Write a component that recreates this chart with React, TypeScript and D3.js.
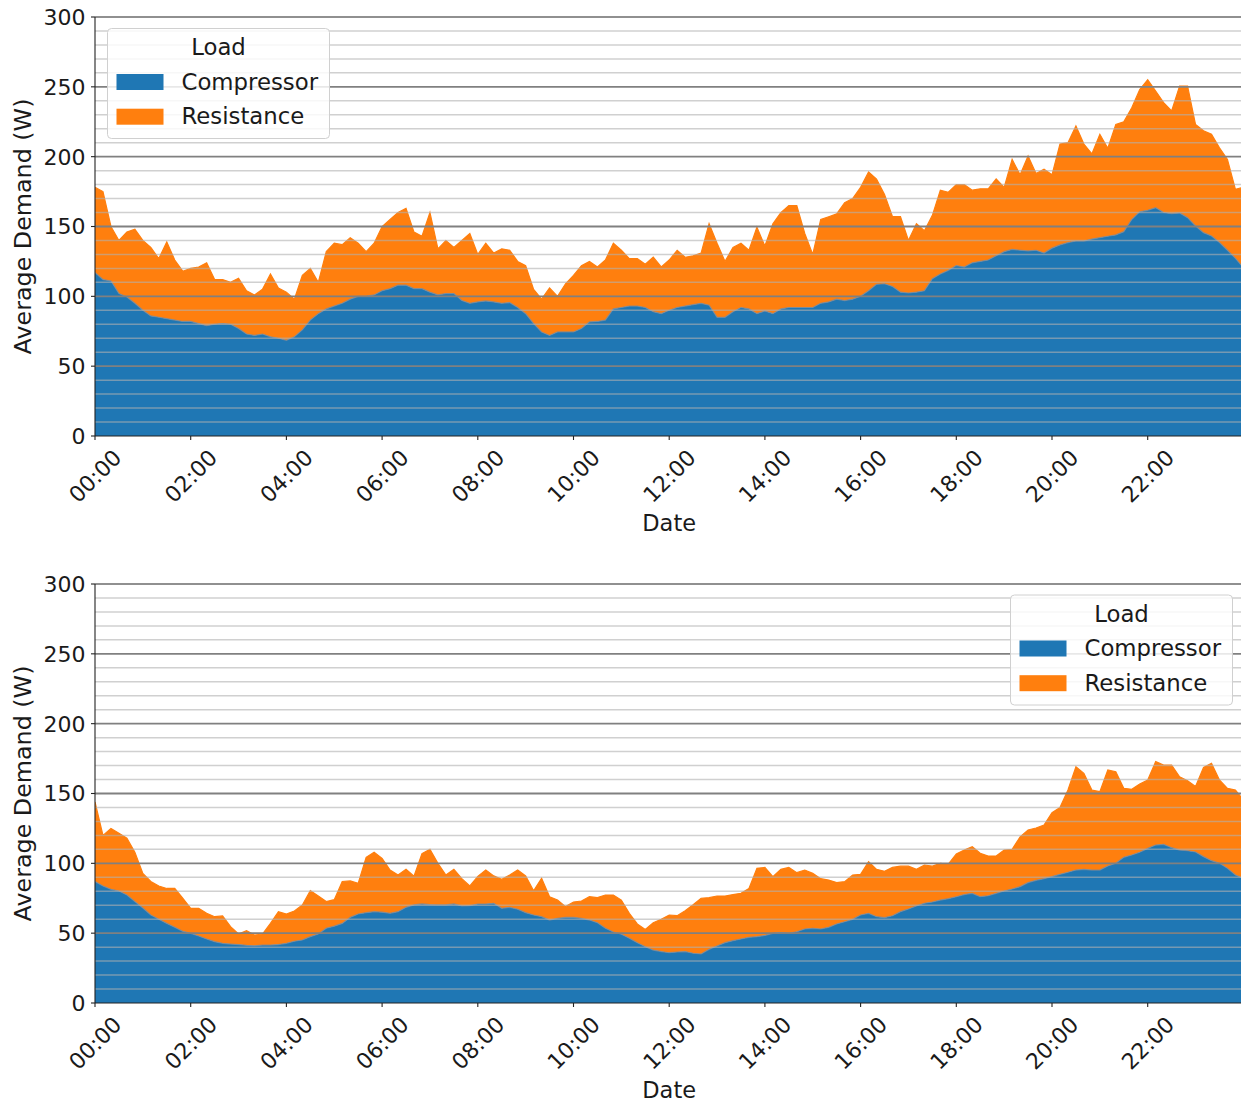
import React from "react";
import * as d3 from "d3";

// sample times (minutes after midnight), 10-minute grid
const TIME_MIN: number[] = d3.range(0, 1441, 10);
const TICK_LABELS = ["00:00","02:00","04:00","06:00","08:00","10:00","12:00","14:00","16:00","18:00","20:00","22:00"];
const TICK_MIN = [0,120,240,360,480,600,720,840,960,1080,1200,1320];
const Y_TICKS = [0,50,100,150,200,250,300];
const SERIES = ["Compressor","Resistance"];

// Panel 1: compressor demand (W)
const compressorTop = [
117,112,111,102,99.5,95,90,86,85,84,83,82,82,80.5,79,80,80.5,80,77,73,72,73,71,70,68.5,71,76,83,87.6,91,93,95,98,100,100,101,104,105.5,108,108,105.5,105.5,103,101,102,102,97,95,96,96.7,96,95,95.5,92,87.6,80.5,74.5,72,74.5,74.5,74.5,
77,81.7,82,83,91,92,93,93,92,89,87.6,90,92,93,94,95,93.6,85,85,89,92,91,87.6,89.5,87.6,91,92,92,92,92,95,96,98,97,98,100,104,108.6,109,107,103,102.4,103,104,112.6,116,118.6,122,121,124,125,126,129,
132,133.6,133,132.5,133,131,134.5,136.8,138.5,139.6,139.6,141,142,143,144,146.3,155,160.6,161.6,163.5,160,159.2,159.7,156.3,150.4,145.6,143.2,138.5,133,127.2,120.5];
// Panel 1: upper edge of the stack (Compressor + Resistance), W
const stackTopPanel1 = [
178,175,150,140,146,148,140,135,127,139,126,118,120,121,124,112,112,110,113,104,101,105,116,106,103,98,115,120,110,132,138,137,142,138,132,138,150,155,160,163,146,143,160,134,140,135,140,145,130,138,131,134,133,125,122,105,98,106,100,109,115,
122,125,121,126,138,133,127,127,123,128,121,126,133,128,129,131,152,138,125,135,138,133,149.5,136,152,160,165,165,145,130,155,157,159,167,170,178,189,184,173,157,157,140,152,147,158,176,174.5,180,180,176,177,177,184,
178,198,187,200.5,188,191,187,209,210,222,209,202,216,206,223,225,235,248,255,247,238.7,232.7,250.6,250.6,223,218.6,216,206.4,198,176.6,178];

// Panel 2: compressor demand (W)
const compressorBottom = [
87,83.8,81.4,80.2,77.3,72.6,68,63,60,57,54.2,51.3,49.9,48,45.8,43.9,42.7,42.2,41.8,41.3,41,41.5,41.5,41.8,42.7,44.2,45.1,47.5,49.4,53.5,55,57,61.3,63.7,64.7,65.4,65,64.2,65.4,68.5,70.2,70.9,70.4,70.2,70.2,70.9,69.5,69.7,70.9,
70.9,71.4,67.8,68.5,67.1,64.7,63,61.8,59.4,60.6,61.3,61.3,60.6,59.4,57.5,53.5,50.8,49.2,46.3,43.2,40.3,37.9,36.8,36,36.5,36.8,35.6,35.1,38.4,40.8,43.2,44.6,45.8,47,47.5,48.4,49.9,50.4,49.9,51,53,53.5,53,54.2,56.6,58.2,59.9,63,
64.2,61.8,61.1,62.5,65.4,67.3,69.5,71.4,72.3,73.7,74.7,76.1,77.6,78.5,76.1,76.8,78.5,80.2,81.6,83.3,86.2,87.8,89,90.5,92.1,93.6,95.2,95.7,95.2,95.2,98.1,100,104.3,106,107.9,110.7,113.1,113.6,111.2,109.5,109,108.1,104.8,101.9,100,96.4,91.6,89.3];
// Panel 2: upper edge of the stack (Compressor + Resistance), W
const stackTopPanel2 = [
144,120,125,121.5,118,108,92.8,87,83.8,82,82,75,67.8,67.8,64.2,61.8,62.3,54.7,49.4,51.8,48.7,49.4,57,65.4,63.7,65.9,70.2,80.4,76.6,72.6,74,87,87.4,85.7,104.3,108,103.6,95.2,91.6,95.7,90.7,107,110,100,91.6,95.7,89,83.8,90.7,
95.2,91,88.5,91.6,95.2,91,80.4,89.3,76.1,73.7,69,72.3,73,76.1,75.5,77.3,77.3,73.7,64.2,56.6,52.7,57.5,60,63,62.5,66.1,70.4,75,75.4,76.6,76.6,77.6,78.5,82,96.4,97.1,90.5,95.7,97.1,93.3,95.2,92.8,89,88,86.2,86.9,91.6,92.1,
101.2,95.7,94.3,97.1,98,98,95.7,98.8,98,100,99.5,106.7,109.5,111.9,107.2,105.2,105.2,109.5,110,119,123.9,125.3,127.4,136.3,140,152.5,169.2,164.4,152.5,151.3,166.8,165.6,153.7,153,156.8,159.7,172.8,170.4,170.4,162,159.2,155,168.7,171.6,159.7,153.7,152.5,145.3];

const W = 1241, H = 1101;
const X0 = 95, X1 = 95 + 24 * 47.85;
const BLUE = "#1f77b4", ORANGE = "#ff7f0e";
const FONT = "DejaVu Sans, Verdana, sans-serif";
const TXT = "#1a1a1a";

const x = d3.scaleLinear().domain([0, 1440]).range([X0, X1]);

function Legend({ bx, by }: { bx: number; by: number }) {
  return (
    <g fontFamily={FONT} fill={TXT}>
      <rect x={bx} y={by} width={222} height={110} rx={4} fill="white" fillOpacity={0.82} stroke="#d0d0d0" strokeWidth={1} />
      <text x={bx + 111} y={by + 26.5} fontSize={22.8} textAnchor="middle">Load</text>
      {SERIES.map((s, i) => (
        <g key={s}>
          <rect x={bx + 9} y={by + 45.5 + i * 34.7} width={47} height={16} fill={i === 0 ? BLUE : ORANGE} />
          <text x={bx + 74} y={by + 61 + i * 34.7} fontSize={22.8}>{s}</text>
        </g>
      ))}
    </g>
  );
}

function Panel({ id, top, bottom, comp, stackTop, legend }: any) {
  const y = d3.scaleLinear().domain([0, 300]).range([bottom, top]);
  const rows = TIME_MIN.map((t, i) => ({ t, Compressor: comp[i], Resistance: stackTop[i] - comp[i] }));
  const stacked = d3.stack<any>().keys(SERIES)(rows);
  const area = d3.area<any>().x((d) => x(d.data.t)).y0((d) => y(d[0])).y1((d) => y(d[1]));
  const line = d3.line<any>().x((d) => x(d.data.t)).y((d) => y(d[1]));
  const minor = d3.range(10, 300, 10).filter((v) => v % 50 !== 0);
  const major = [50, 100, 150, 200, 250];
  const clipId = "clip" + id;
  return (
    <g>
      <defs>
        <clipPath id={clipId}>
          <rect x={X0} y={top} width={X1 - X0} height={bottom - top} />
        </clipPath>
      </defs>
      <g clipPath={`url(#${clipId})`}>
        <path d={area(stacked[1] as any) || ""} fill={ORANGE} />
        <path d={line(stacked[1] as any) || ""} fill="none" stroke={ORANGE} strokeWidth={1.2} />
        <path d={area(stacked[0] as any) || ""} fill={BLUE} />
        <path d={line(stacked[0] as any) || ""} fill="none" stroke="#7a8796" strokeWidth={1.2} strokeOpacity={0.8} />
        {minor.map((v) => (
          <line key={"mi" + v} x1={X0} x2={X1} y1={y(v)} y2={y(v)} stroke="#b0b0b0" strokeOpacity={0.6} strokeWidth={1.5} />
        ))}
        {major.map((v) => (
          <line key={"ma" + v} x1={X0} x2={X1} y1={y(v)} y2={y(v)} stroke="#808080" strokeWidth={1.8} />
        ))}
      </g>
      {/* spines */}
      <line x1={X0} x2={X1} y1={top} y2={top} stroke="#222" strokeWidth={1.1} />
      <line x1={X0} x2={X1} y1={bottom} y2={bottom} stroke="#222" strokeWidth={1.1} />
      <line x1={X0} x2={X0} y1={top} y2={bottom} stroke="#222" strokeWidth={1.1} />
      {/* y ticks */}
      {Y_TICKS.map((v) => (
        <g key={"yt" + v}>
          <line x1={X0 - 4} x2={X0} y1={y(v)} y2={y(v)} stroke="#222" strokeWidth={1.1} />
          <text x={85.5} y={y(v)} dy="0.36em" textAnchor="end" fontFamily={FONT} fontSize={22} fill={TXT}>{v}</text>
        </g>
      ))}
      {/* x ticks */}
      {TICK_MIN.map((t, i) => (
        <g key={"xt" + t}>
          <line x1={x(t)} x2={x(t)} y1={bottom} y2={bottom + 4} stroke="#222" strokeWidth={1.1} />
          <text transform={`translate(${x(t)},${bottom + 40}) rotate(-45)`} textAnchor="middle" dy="0.36em" fontFamily={FONT} fontSize={22} fill={TXT}>{TICK_LABELS[i]}</text>
        </g>
      ))}
      <text x={(X0 + X1) / 2} y={bottom + 94.5} textAnchor="middle" fontFamily={FONT} fontSize={22.5} fill={TXT}>Date</text>
      <text transform={`translate(22,${(top + bottom) / 2}) rotate(-90)`} textAnchor="middle" dy="0.36em" fontFamily={FONT} fontSize={23.8} fill={TXT}>Average Demand (W)</text>
      <Legend bx={legend[0]} by={legend[1]} />
    </g>
  );
}

export default function App() {
  return (
    <div style={{ position: "absolute", left: 0, top: 0, width: W, height: H, background: "white" }}>
      <svg width={W} height={H} viewBox={`0 0 ${W} ${H}`} style={{ display: "block" }}>
        <rect width={W} height={H} fill="white" />
        <Panel id="a" top={17} bottom={436} comp={compressorTop} stackTop={stackTopPanel1} legend={[107.5, 28.5]} />
        <Panel id="b" top={584} bottom={1003} comp={compressorBottom} stackTop={stackTopPanel2} legend={[1010.5, 595]} />
      </svg>
    </div>
  );
}
